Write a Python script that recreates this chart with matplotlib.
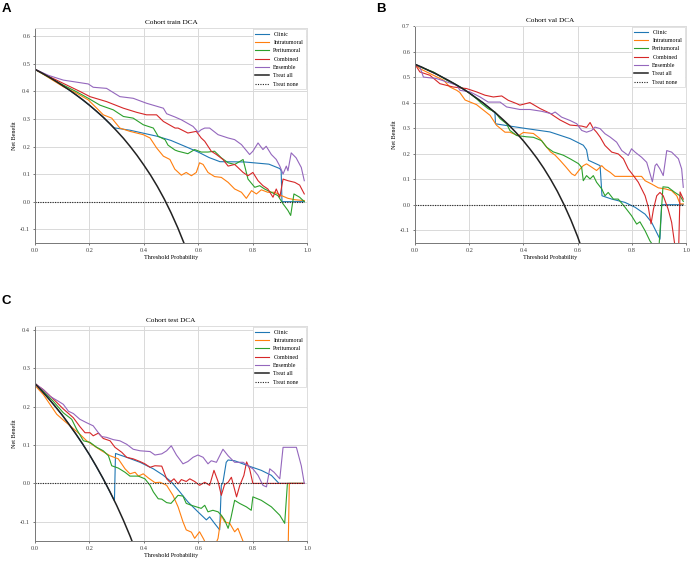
import matplotlib
matplotlib.use("Agg")
import matplotlib.pyplot as plt


plt.rcParams["font.family"       ] = "Liberation Serif"
plt.rcParams["axes.unicode_minus"] = False
plt.rcParams["xtick.labelsize"   ] = 4.6
plt.rcParams["ytick.labelsize"   ] = 4.6
plt.rcParams["xtick.major.size"  ] = 1.5
plt.rcParams["ytick.major.size"  ] = 1.5
plt.rcParams["xtick.major.pad"   ] = 2
plt.rcParams["ytick.major.pad"   ] = 2


MODEL_NAMES  = ["Clinic", "Intratumoral", "Peritumoral", "Combined", "Ensemble"]
MODEL_COLORS = ["#1f77b4", "#ff7f0e", "#2ca02c", "#d62728", "#9467bd"]

# (threshold probability, net benefit)
train_clinic = [(0.0, 0.48), (0.05, 0.453), (0.1, 0.422), (0.15, 0.388), (0.2, 0.35), (0.25, 0.307),
                (0.29, 0.268), (0.35, 0.259), (0.4, 0.248), (0.45, 0.237), (0.5, 0.222), (0.56, 0.197),
                (0.6, 0.18), (0.64, 0.16), (0.68, 0.145), (0.77, 0.144), (0.86, 0.136), (0.9, 0.12),
                (0.905, 0.112), (0.908, 0.0), (0.99, 0.0)]
train_intra = [(0.0, 0.48), (0.05, 0.45), (0.104, 0.417), (0.15, 0.395), (0.196, 0.369), (0.227, 0.339),
               (0.251, 0.315), (0.282, 0.303), (0.312, 0.267), (0.349, 0.255), (0.398, 0.243),
               (0.423, 0.231), (0.447, 0.195), (0.472, 0.165), (0.496, 0.153), (0.514, 0.118),
               (0.538, 0.096), (0.556, 0.106), (0.575, 0.094), (0.593, 0.106), (0.605, 0.141),
               (0.618, 0.135), (0.636, 0.106), (0.66, 0.091), (0.685, 0.088), (0.71, 0.07),
               (0.734, 0.046), (0.759, 0.034), (0.777, 0.012), (0.796, 0.04), (0.814, 0.028),
               (0.832, 0.043), (0.856, 0.034), (0.881, 0.034), (0.906, 0.022), (0.93, 0.012),
               (0.955, 0.007), (0.99, 0.004)]
train_peri = [(0.0, 0.48), (0.05, 0.452), (0.104, 0.423), (0.15, 0.4), (0.196, 0.375), (0.239, 0.35),
              (0.288, 0.333), (0.325, 0.309), (0.361, 0.303), (0.398, 0.279), (0.435, 0.267),
              (0.453, 0.237), (0.478, 0.225), (0.489, 0.205), (0.515, 0.187), (0.526, 0.183),
              (0.562, 0.174), (0.587, 0.189), (0.611, 0.18), (0.636, 0.18), (0.66, 0.183),
              (0.685, 0.159), (0.71, 0.141), (0.734, 0.135), (0.755, 0.147), (0.765, 0.153),
              (0.783, 0.082), (0.808, 0.052), (0.826, 0.058), (0.844, 0.046), (0.869, 0.034),
              (0.893, 0.022), (0.912, -0.008), (0.93, -0.032), (0.94, -0.05), (0.952, 0.028),
              (0.973, 0.016), (0.99, 0.0)]
train_comb = [(0.0, 0.48), (0.05, 0.455), (0.104, 0.429), (0.165, 0.4), (0.202, 0.381), (0.263, 0.363),
              (0.325, 0.339), (0.374, 0.324), (0.41, 0.315), (0.447, 0.315), (0.472, 0.291),
              (0.515, 0.267), (0.526, 0.267), (0.562, 0.249), (0.593, 0.255), (0.611, 0.231),
              (0.624, 0.219), (0.648, 0.183), (0.667, 0.171), (0.691, 0.153), (0.71, 0.129),
              (0.734, 0.135), (0.746, 0.124), (0.765, 0.106), (0.783, 0.094), (0.801, 0.106),
              (0.82, 0.076), (0.838, 0.058), (0.856, 0.046), (0.875, 0.016), (0.887, 0.046),
              (0.9, 0.016), (0.912, 0.082), (0.93, 0.076), (0.955, 0.07), (0.973, 0.06), (0.99, 0.028)]
train_ens = [(0.0, 0.48), (0.05, 0.458), (0.104, 0.441), (0.196, 0.427), (0.214, 0.415), (0.263, 0.411),
             (0.312, 0.381), (0.361, 0.375), (0.41, 0.357), (0.472, 0.339), (0.484, 0.319),
             (0.515, 0.307), (0.538, 0.297), (0.581, 0.273), (0.6, 0.252), (0.611, 0.261),
             (0.624, 0.267), (0.642, 0.267), (0.673, 0.243), (0.71, 0.231), (0.734, 0.225),
             (0.759, 0.207), (0.789, 0.171), (0.801, 0.183), (0.82, 0.213), (0.838, 0.189),
             (0.85, 0.201), (0.869, 0.171), (0.887, 0.153), (0.9, 0.129), (0.912, 0.1),
             (0.924, 0.129), (0.93, 0.112), (0.942, 0.177), (0.96, 0.159), (0.979, 0.124), (0.99, 0.076)]
train_all = [(0.0, 0.48), (0.025, 0.467), (0.05, 0.453), (0.075, 0.438), (0.1, 0.422), (0.125, 0.406),
             (0.15, 0.388), (0.175, 0.37), (0.2, 0.35), (0.225, 0.329), (0.25, 0.307), (0.275, 0.283),
             (0.3, 0.257), (0.325, 0.23), (0.35, 0.2), (0.375, 0.168), (0.4, 0.133), (0.425, 0.096),
             (0.45, 0.055), (0.475, 0.01), (0.5, -0.04), (0.525, -0.095), (0.55, -0.156),
             (0.575, -0.224)]

val_clinic = [(0.0, 0.55), (0.05, 0.526), (0.1, 0.5), (0.15, 0.471), (0.2, 0.438), (0.25, 0.4),
              (0.295, 0.36), (0.297, 0.317), (0.35, 0.308), (0.412, 0.298), (0.498, 0.285),
              (0.572, 0.259), (0.621, 0.233), (0.633, 0.215), (0.64, 0.174), (0.683, 0.153),
              (0.69, 0.035), (0.726, 0.022), (0.775, 0.009), (0.812, -0.01), (0.849, -0.037),
              (0.873, -0.069), (0.904, -0.135), (0.91, 0.0), (0.99, 0.0)]
val_intra = [(0.0, 0.55), (0.018, 0.533), (0.068, 0.507), (0.105, 0.488), (0.129, 0.461),
             (0.154, 0.448), (0.165, 0.44), (0.185, 0.41), (0.227, 0.392), (0.246, 0.376),
             (0.277, 0.35), (0.301, 0.311), (0.332, 0.284), (0.35, 0.284), (0.381, 0.27),
             (0.4, 0.283), (0.437, 0.279), (0.461, 0.259), (0.48, 0.233), (0.5, 0.207),
             (0.517, 0.194), (0.535, 0.174), (0.555, 0.15), (0.578, 0.121), (0.59, 0.114),
             (0.609, 0.14), (0.621, 0.153), (0.633, 0.16), (0.652, 0.147), (0.67, 0.134),
             (0.689, 0.153), (0.701, 0.14), (0.72, 0.127), (0.738, 0.111), (0.836, 0.111),
             (0.849, 0.094), (0.873, 0.081), (0.898, 0.066), (0.923, 0.062), (0.947, 0.055),
             (0.966, 0.035), (0.978, 0.003), (0.99, 0.003)]
val_peri = [(0.0, 0.55), (0.018, 0.54), (0.068, 0.52), (0.117, 0.488), (0.154, 0.468), (0.178, 0.455),
            (0.203, 0.435), (0.227, 0.415), (0.246, 0.396), (0.27, 0.376), (0.295, 0.363),
            (0.314, 0.337), (0.338, 0.317), (0.35, 0.291), (0.375, 0.271), (0.412, 0.266),
            (0.437, 0.264), (0.467, 0.251), (0.486, 0.225), (0.51, 0.207), (0.547, 0.194),
            (0.572, 0.18), (0.603, 0.161), (0.615, 0.146), (0.621, 0.094), (0.633, 0.114),
            (0.646, 0.101), (0.658, 0.114), (0.67, 0.088), (0.689, 0.062), (0.701, 0.035),
            (0.713, 0.048), (0.732, 0.022), (0.75, 0.022), (0.775, -0.01), (0.799, -0.043),
            (0.818, -0.076), (0.83, -0.067), (0.849, -0.102), (0.867, -0.142), (0.886, -0.17),
            (0.9, -0.17), (0.915, 0.07), (0.934, 0.068), (0.959, 0.048), (0.978, 0.035), (0.99, 0.013)]
val_comb = [(0.0, 0.55), (0.018, 0.52), (0.055, 0.507), (0.092, 0.474), (0.141, 0.461), (0.19, 0.455),
            (0.227, 0.442), (0.258, 0.429), (0.289, 0.422), (0.32, 0.426), (0.344, 0.409),
            (0.375, 0.396), (0.387, 0.39), (0.424, 0.4), (0.461, 0.377), (0.498, 0.358),
            (0.535, 0.332), (0.572, 0.312), (0.615, 0.308), (0.633, 0.303), (0.646, 0.322),
            (0.658, 0.298), (0.67, 0.284), (0.683, 0.265), (0.701, 0.232), (0.726, 0.206),
            (0.75, 0.199), (0.769, 0.18), (0.787, 0.14), (0.806, 0.114), (0.824, 0.088),
            (0.849, 0.035), (0.861, -0.01), (0.871, -0.075), (0.88, -0.017), (0.892, 0.035),
            (0.904, 0.048), (0.916, 0.035), (0.934, -0.017), (0.947, -0.069), (0.959, -0.16),
            (0.97, -0.3), (0.978, 0.05), (0.99, 0.022)]
val_ens = [(0.0, 0.55), (0.018, 0.54), (0.031, 0.5), (0.08, 0.494), (0.117, 0.481), (0.154, 0.468),
           (0.166, 0.448), (0.203, 0.442), (0.24, 0.422), (0.27, 0.402), (0.314, 0.402),
           (0.338, 0.383), (0.387, 0.373), (0.424, 0.373), (0.467, 0.366), (0.505, 0.356),
           (0.517, 0.363), (0.541, 0.343), (0.572, 0.33), (0.597, 0.317), (0.615, 0.291),
           (0.633, 0.284), (0.652, 0.291), (0.664, 0.304), (0.683, 0.298), (0.701, 0.278),
           (0.72, 0.265), (0.744, 0.245), (0.763, 0.212), (0.787, 0.193), (0.799, 0.219),
           (0.812, 0.206), (0.836, 0.186), (0.855, 0.166), (0.876, 0.09), (0.886, 0.153),
           (0.892, 0.16), (0.904, 0.14), (0.916, 0.114), (0.929, 0.212), (0.947, 0.206),
           (0.972, 0.18), (0.984, 0.14), (0.99, 0.068)]
val_all = [(0.0, 0.55), (0.025, 0.539), (0.05, 0.526), (0.075, 0.514), (0.1, 0.5), (0.125, 0.486),
           (0.15, 0.471), (0.175, 0.455), (0.2, 0.438), (0.225, 0.419), (0.25, 0.4), (0.275, 0.379),
           (0.3, 0.357), (0.325, 0.333), (0.35, 0.308), (0.375, 0.28), (0.4, 0.25), (0.425, 0.217),
           (0.45, 0.182), (0.475, 0.143), (0.5, 0.1), (0.525, 0.053), (0.55, 0.0), (0.575, -0.059),
           (0.6, -0.125), (0.625, -0.2)]

test_clinic = [(0.0, 0.26), (0.05, 0.221), (0.1, 0.178), (0.15, 0.129), (0.2, 0.075), (0.25, 0.013),
               (0.292, -0.045), (0.296, 0.078), (0.337, 0.068), (0.386, 0.055), (0.435, 0.038),
               (0.47, 0.022), (0.5, 0.005), (0.53, -0.02), (0.562, -0.048), (0.599, -0.074),
               (0.63, -0.095), (0.642, -0.087), (0.66, -0.104), (0.679, -0.121), (0.685, -0.005),
               (0.691, 0.003), (0.703, 0.055), (0.71, 0.061), (0.734, 0.059), (0.783, 0.046),
               (0.832, 0.034), (0.869, 0.021), (0.897, 0.0), (0.99, 0.0)]
test_intra = [(0.0, 0.255), (0.031, 0.231), (0.055, 0.206), (0.08, 0.18), (0.104, 0.165), (0.129, 0.15),
              (0.165, 0.128), (0.19, 0.111), (0.221, 0.096), (0.245, 0.085), (0.276, 0.072),
              (0.306, 0.064), (0.331, 0.038), (0.349, 0.025), (0.368, 0.029), (0.38, 0.019),
              (0.398, 0.025), (0.417, 0.014), (0.441, 0.002), (0.46, 0.003), (0.484, -0.005),
              (0.507, -0.031), (0.526, -0.061), (0.544, -0.1), (0.556, -0.121), (0.575, -0.127),
              (0.587, -0.143), (0.605, -0.126), (0.62, -0.145), (0.64, -0.175), (0.66, -0.165),
              (0.673, -0.143), (0.685, -0.083), (0.697, -0.1), (0.716, -0.104), (0.734, -0.126),
              (0.746, -0.117), (0.765, -0.151), (0.78, -0.2), (0.93, -0.2), (0.935, 0.0), (0.99, 0.0)]
test_peri = [(0.0, 0.26), (0.031, 0.24), (0.067, 0.214), (0.104, 0.184), (0.135, 0.167), (0.153, 0.141),
             (0.178, 0.111), (0.202, 0.107), (0.227, 0.094), (0.251, 0.085), (0.27, 0.072),
             (0.282, 0.046), (0.306, 0.04), (0.331, 0.029), (0.349, 0.019), (0.38, 0.019),
             (0.404, 0.012), (0.423, -0.005), (0.435, -0.022), (0.453, -0.04), (0.466, -0.041),
             (0.484, -0.05), (0.5, -0.052), (0.515, -0.04), (0.526, -0.031), (0.544, -0.033),
             (0.556, -0.052), (0.575, -0.057), (0.593, -0.061), (0.611, -0.065), (0.624, -0.057),
             (0.636, -0.074), (0.654, -0.07), (0.673, -0.074), (0.685, -0.083), (0.697, -0.095),
             (0.71, -0.117), (0.72, -0.091), (0.734, -0.044), (0.752, -0.052), (0.777, -0.061),
             (0.795, -0.07), (0.801, -0.035), (0.832, -0.044), (0.869, -0.061), (0.9, -0.083),
             (0.918, -0.104), (0.928, 0.0), (0.99, 0.0)]
test_comb = [(0.0, 0.26), (0.031, 0.244), (0.067, 0.22), (0.104, 0.194), (0.141, 0.171), (0.165, 0.148),
             (0.184, 0.132), (0.202, 0.132), (0.214, 0.124), (0.233, 0.131), (0.251, 0.117),
             (0.276, 0.111), (0.294, 0.094), (0.319, 0.081), (0.337, 0.068), (0.361, 0.064),
             (0.386, 0.057), (0.404, 0.051), (0.423, 0.042), (0.441, 0.046), (0.466, 0.045),
             (0.484, 0.012), (0.496, 0.003), (0.511, 0.012), (0.526, -0.001), (0.538, 0.01),
             (0.556, 0.005), (0.569, 0.012), (0.587, 0.005), (0.605, -0.005), (0.624, 0.003),
             (0.642, -0.005), (0.658, 0.034), (0.673, 0.005), (0.685, -0.031), (0.697, -0.003),
             (0.71, 0.003), (0.722, 0.016), (0.741, -0.035), (0.753, -0.005), (0.768, 0.021),
             (0.778, 0.056), (0.789, 0.038), (0.801, 0.0), (0.99, 0.0)]
test_ens = [(0.0, 0.26), (0.031, 0.244), (0.055, 0.227), (0.086, 0.214), (0.104, 0.206), (0.123, 0.188),
            (0.141, 0.182), (0.165, 0.167), (0.19, 0.158), (0.214, 0.15), (0.233, 0.132),
            (0.245, 0.122), (0.263, 0.12), (0.288, 0.114), (0.312, 0.111), (0.337, 0.102),
            (0.361, 0.089), (0.386, 0.085), (0.423, 0.083), (0.441, 0.074), (0.466, 0.077),
            (0.484, 0.085), (0.501, 0.098), (0.52, 0.074), (0.544, 0.051), (0.562, 0.057),
            (0.581, 0.068), (0.599, 0.074), (0.618, 0.068), (0.636, 0.051), (0.648, 0.059),
            (0.667, 0.055), (0.691, 0.089), (0.71, 0.072), (0.734, 0.055), (0.765, 0.055),
            (0.783, 0.046), (0.801, 0.038), (0.82, 0.021), (0.838, -0.005), (0.851, -0.009),
            (0.863, 0.038), (0.879, 0.029), (0.9, 0.012), (0.912, 0.094), (0.961, 0.094),
            (0.979, 0.046), (0.99, 0.0)]
test_all = [(0.0, 0.26), (0.025, 0.241), (0.05, 0.221), (0.075, 0.2), (0.1, 0.178), (0.125, 0.154),
            (0.15, 0.129), (0.175, 0.103), (0.2, 0.075), (0.225, 0.045), (0.25, 0.013),
            (0.275, -0.021), (0.3, -0.057), (0.325, -0.096), (0.35, -0.138), (0.375, -0.184)]

treat_none = [(0.0, 0.0), (0.99, 0.0)]

prevalence = {"train": 0.48, "val": 0.55, "test": 0.26}


def plot_dca(ax, title, models, treat_all, prev):
    for name, color, pts in zip(MODEL_NAMES, MODEL_COLORS, models):
        xs, ys = zip(*pts)
        ax.plot(xs, ys, color=color, lw=0.8, label=name)
    xs, ys = zip(*treat_all)
    ax.plot(xs, ys, color="#222222", lw=1.1, label="Treat all")
    xs, ys = zip(*treat_none)
    ax.plot(xs, ys, color="#222222", lw=0.8, ls=(0, (1, 1.2)), label="Treat none")

    ax.set_xlim(0, 1)
    ax.set_ylim(-0.15, prev + 0.15)
    ax.set_xticks([0.0, 0.2, 0.4, 0.6, 0.8, 1.0])
    top = int(round((prev + 0.15) * 10))
    ax.set_yticks([k / 10 for k in range(-1, top + 1) if k / 10 <= prev + 0.15 + 1e-9])
    ax.xaxis.set_major_formatter(matplotlib.ticker.FormatStrFormatter("%.1f"))
    ax.yaxis.set_major_formatter(matplotlib.ticker.FormatStrFormatter("%.1f"))
    ax.grid(True, color="#d9d9d9", lw=0.7)
    ax.set_axisbelow(True)
    for side in ("top", "right"):
        ax.spines[side].set_color("#dddddd")
    for side in ("left", "bottom"):
        ax.spines[side].set_color("#777777")
    for s in ax.spines.values():
        s.set_linewidth(0.7)
    ax.tick_params(colors="#444444", width=0.5)
    ax.set_title(title, fontsize=5.2, pad=3)
    ax.set_xlabel("Threshold Probability", fontsize=4.4, labelpad=1.5)
    ax.set_ylabel("Net Benefit", fontsize=4.4, labelpad=2)
    leg = ax.legend(loc="upper right", fontsize=4.2, handlelength=2.3, borderaxespad=0.25,
                    labelspacing=0.55, framealpha=1, fancybox=False)
    leg.get_frame().set_edgecolor("#dddddd")
    leg.get_frame().set_linewidth(0.6)


def main():
    fig = plt.figure(figsize=(6.92, 5.61), dpi=100)
    ax_a = fig.add_axes([35 / 692, 1 - 243 / 561, 272 / 692, 215 / 561])
    ax_b = fig.add_axes([415 / 692, 1 - 243 / 561, 271 / 692, 217 / 561])
    ax_c = fig.add_axes([35 / 692, 1 - 541 / 561, 272 / 692, 215 / 561])

    plot_dca(ax_a, "Cohort train DCA",
             [train_clinic, train_intra, train_peri, train_comb, train_ens], train_all, prevalence["train"])
    plot_dca(ax_b, "Cohort val DCA",
             [val_clinic, val_intra, val_peri, val_comb, val_ens], val_all, prevalence["val"])
    plot_dca(ax_c, "Cohort test DCA",
             [test_clinic, test_intra, test_peri, test_comb, test_ens], test_all, prevalence["test"])

    for letter, x, y in (("A", 2, 3), ("B", 376, 3), ("C", 2, 295)):
        fig.text(x / 692, 1 - y / 561, letter, family="Liberation Sans", weight="bold",
                 fontsize=9.5, ha="left", va="top")

    fig.savefig("out.png", dpi=100)


if __name__ == "__main__":
    main()
